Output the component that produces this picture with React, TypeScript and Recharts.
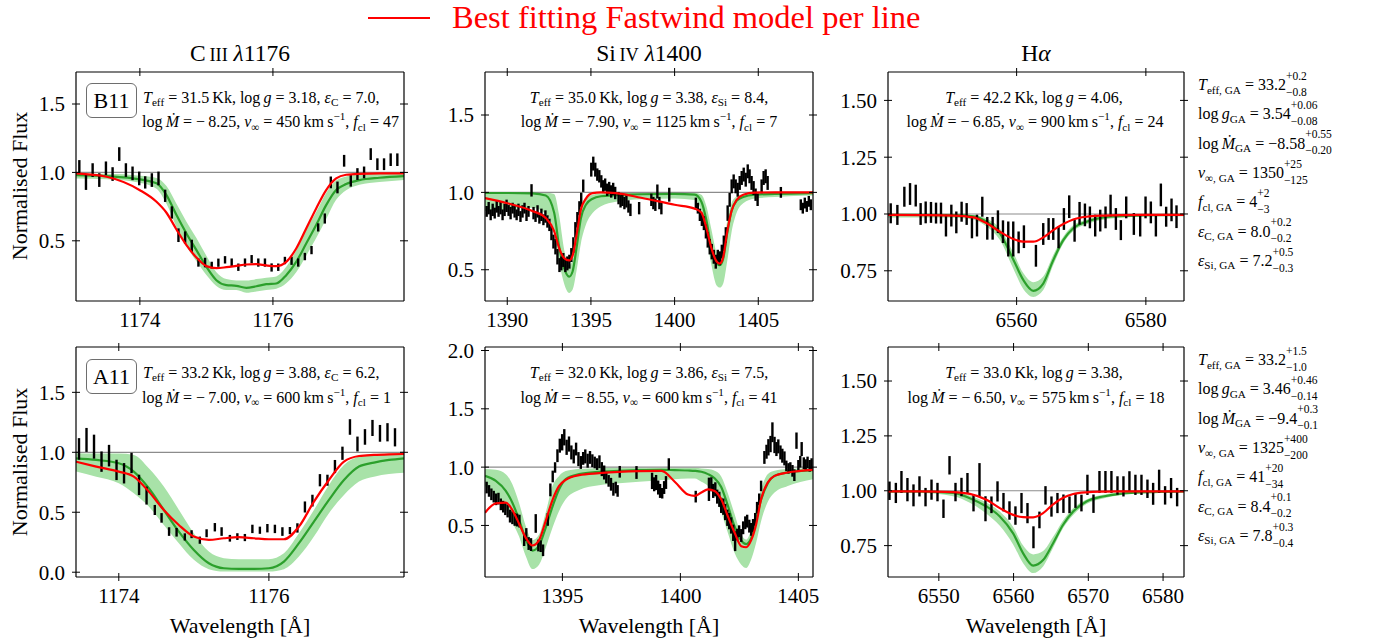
import React from 'react';
import { ComposedChart, XAxis, YAxis, Line, Area, Scatter, ErrorBar, ReferenceLine } from 'recharts';

const FONT = "'Liberation Serif', 'DejaVu Serif', serif";
const RED = '#ff0000';
const GREEN = '#2ca02c';
const BAND = '#a8e2a8';

// ---------- C III 1176, B11 (top left) ----------
const p1Wave = [1173.09,1173.19,1173.29,1173.39,1173.49,1173.59,1173.69,1173.79,1173.89,1173.99,1174.08,1174.18,1174.28,1174.38,1174.48,1174.58,1174.68,1174.78,1174.88,1174.98,1175.08,1175.18,1175.28,1175.38,1175.48,1175.58,1175.68,1175.78,1175.88,1175.98,1176.08,1176.18,1176.28,1176.38,1176.48,1176.58,1176.68,1176.78,1176.87,1176.97,1177.07,1177.17,1177.27,1177.37,1177.47,1177.57,1177.67,1177.77,1177.87];
const p1Flux = [1.04,0.927,1.017,0.944,1.03,0.988,1.134,1.017,0.993,0.956,0.927,0.944,0.956,0.829,0.707,0.541,0.524,0.463,0.341,0.341,0.322,0.34,0.361,0.341,0.307,0.341,0.366,0.341,0.341,0.305,0.307,0.356,0.354,0.341,0.385,0.432,0.598,0.663,0.927,0.89,1.085,0.939,0.988,1.0,1.134,1.06,1.06,1.093,1.093];
const p1Err = [0.05,0.055,0.05,0.05,0.05,0.05,0.05,0.05,0.05,0.05,0.045,0.05,0.05,0.045,0.045,0.05,0.045,0.045,0.03,0.035,0.025,0.03,0.027,0.03,0.027,0.03,0.03,0.03,0.03,0.03,0.027,0.027,0.03,0.03,0.027,0.03,0.03,0.037,0.043,0.043,0.043,0.043,0.043,0.043,0.043,0.043,0.043,0.046,0.046];
const p1ModWave = [1173.04,1173.5,1174.0,1174.25,1174.4,1174.55,1174.7,1174.85,1175.0,1175.15,1175.3,1175.45,1175.6,1175.75,1175.9,1176.05,1176.2,1176.35,1176.5,1176.65,1176.8,1176.95,1177.1,1177.3,1177.6,1177.97];
const p1Green = [0.98,0.973,0.949,0.92,0.834,0.688,0.554,0.432,0.31,0.212,0.176,0.171,0.156,0.168,0.183,0.188,0.249,0.346,0.48,0.615,0.761,0.871,0.915,0.944,0.961,0.973];
const p1Lo = [0.955,0.95,0.925,0.88,0.77,0.6,0.46,0.35,0.25,0.17,0.14,0.14,0.12,0.13,0.14,0.15,0.19,0.27,0.39,0.52,0.66,0.8,0.87,0.91,0.93,0.945];
const p1Hi = [0.99,0.99,0.975,0.96,0.9,0.77,0.64,0.52,0.39,0.27,0.22,0.21,0.21,0.22,0.23,0.24,0.31,0.43,0.58,0.71,0.85,0.94,0.97,0.985,0.99,0.99];
const p1Red = [0.993,0.968,0.87,0.785,0.705,0.583,0.468,0.378,0.315,0.3,0.307,0.317,0.327,0.329,0.32,0.315,0.346,0.444,0.59,0.737,0.871,0.956,0.983,0.99,0.993,0.993];

// ---------- Si IV 1400, B11 (top middle) ----------
const p2Wave = [1388.77,1388.89,1389.01,1389.13,1389.25,1389.37,1389.48,1389.6,1389.72,1389.84,1389.96,1390.08,1390.2,1390.32,1390.44,1390.56,1390.67,1390.79,1390.91,1391.03,1391.15,1391.27,1391.45,1391.57,1391.69,1391.81,1391.92,1392.04,1392.16,1392.28,1392.4,1392.52,1392.64,1392.76,1392.88,1393.0,1393.12,1393.23,1393.35,1393.47,1393.59,1393.71,1393.83,1393.95,1394.07,1394.19,1394.31,1394.42,1394.54,1395.02,1395.14,1395.26,1395.38,1395.5,1395.62,1395.73,1395.85,1395.97,1396.09,1396.21,1396.33,1396.45,1396.65,1396.77,1396.88,1397.0,1397.12,1397.24,1397.36,1397.88,1398.61,1398.73,1398.85,1398.97,1399.09,1399.21,1399.68,1401.27,1401.39,1401.51,1401.63,1401.75,1401.87,1401.98,1402.1,1402.22,1402.34,1402.46,1402.58,1402.7,1402.82,1402.94,1403.06,1403.17,1403.29,1403.41,1403.53,1403.65,1403.77,1403.89,1404.01,1404.13,1404.25,1404.37,1404.48,1404.6,1404.72,1404.84,1404.96,1405.2,1405.32,1405.44,1405.56,1406.35,1407.54,1407.66,1407.78,1407.9,1408.02,1408.14];
const p2Flux = [0.877,0.898,0.855,0.887,0.866,0.909,0.877,0.898,0.855,0.887,0.913,0.883,0.866,0.898,0.877,0.855,0.887,0.844,0.877,0.898,0.855,0.877,1.013,0.866,0.844,0.877,0.833,0.855,0.823,0.844,0.812,0.79,0.736,0.682,0.649,0.584,0.53,0.541,0.563,0.53,0.541,0.552,0.595,0.66,0.758,0.823,0.898,0.952,1.043,1.147,1.186,1.147,1.115,1.104,1.071,1.039,1.05,1.017,1.028,1.006,1.022,0.996,0.963,0.942,0.952,0.931,0.942,0.909,0.887,0.898,0.952,0.931,0.92,1.006,0.931,0.898,0.985,0.931,0.898,0.855,0.823,0.801,0.747,0.693,0.649,0.617,0.584,0.552,0.584,0.574,0.617,0.671,0.725,0.866,0.952,1.039,1.071,1.039,1.017,1.061,1.093,1.115,1.082,1.136,1.104,1.061,1.028,0.985,0.952,1.039,1.093,1.104,1.061,1.0,0.92,0.898,0.931,0.909,0.942,0.92];
const p2Err = [0.035,0.04,0.035,0.04,0.035,0.04,0.035,0.04,0.035,0.04,0.04,0.035,0.04,0.035,0.04,0.035,0.04,0.035,0.04,0.035,0.04,0.035,0.04,0.04,0.035,0.04,0.035,0.04,0.035,0.04,0.04,0.04,0.045,0.045,0.05,0.05,0.045,0.045,0.045,0.045,0.045,0.045,0.045,0.05,0.05,0.05,0.045,0.045,0.04,0.045,0.045,0.045,0.04,0.04,0.04,0.04,0.04,0.04,0.04,0.04,0.04,0.04,0.04,0.04,0.04,0.04,0.04,0.04,0.04,0.04,0.04,0.04,0.04,0.045,0.04,0.04,0.045,0.035,0.035,0.04,0.04,0.045,0.045,0.05,0.05,0.05,0.045,0.045,0.045,0.045,0.045,0.05,0.05,0.05,0.045,0.045,0.045,0.045,0.045,0.045,0.045,0.045,0.045,0.045,0.045,0.045,0.045,0.04,0.04,0.045,0.045,0.045,0.045,0.035,0.035,0.035,0.035,0.035,0.035,0.035];
const p2ModWave = [1388.67,1390.0,1391.5,1392.3,1392.8,1393.1,1393.4,1393.7,1393.9,1394.15,1394.4,1394.7,1395.1,1395.6,1396.5,1398.0,1400.0,1401.2,1401.6,1401.9,1402.2,1402.5,1402.7,1402.9,1403.15,1403.4,1403.7,1404.1,1404.8,1406.0,1408.27];
const p2Green = [0.996,0.996,0.993,0.98,0.87,0.65,0.51,0.455,0.487,0.65,0.833,0.92,0.959,0.975,0.982,0.988,0.99,0.985,0.94,0.82,0.64,0.545,0.53,0.57,0.74,0.88,0.945,0.97,0.985,0.99,0.995];
const p2Lo = [0.88,0.89,0.9,0.86,0.74,0.55,0.41,0.35,0.37,0.5,0.67,0.79,0.866,0.91,0.94,0.955,0.96,0.95,0.88,0.71,0.53,0.4,0.385,0.41,0.56,0.74,0.866,0.93,0.96,0.97,0.98];
const p2Hi = [1.0,1.0,1.0,0.998,0.99,0.85,0.63,0.53,0.56,0.74,0.9,0.963,0.985,0.995,1.0,1.0,1.0,0.998,0.985,0.91,0.76,0.61,0.56,0.63,0.82,0.93,0.974,0.99,1.0,1.0,1.0];
const p2Red = [0.963,0.93,0.88,0.835,0.75,0.64,0.575,0.56,0.59,0.73,0.89,0.96,0.995,1.0,0.995,0.965,0.92,0.895,0.87,0.77,0.64,0.555,0.54,0.58,0.75,0.88,0.95,0.985,0.998,1.0,1.0];

// ---------- H alpha, B11 (top right) ----------
const p3Wave = [6540.52,6541.55,6542.63,6543.51,6544.39,6545.15,6545.93,6546.75,6547.53,6548.3,6549.07,6549.9,6550.67,6551.49,6552.27,6553.09,6553.87,6554.69,6555.46,6556.29,6557.11,6557.89,6558.71,6559.48,6560.31,6561.13,6562.99,6564.12,6564.95,6565.67,6566.49,6567.32,6568.14,6568.97,6569.74,6570.57,6571.34,6572.16,6572.94,6573.76,6574.54,6575.36,6576.13,6576.96,6578.14,6579.12,6579.95,6580.77,6581.55,6582.32,6583.14,6583.97,6584.74];
const p3Flux = [1.003,0.996,1.076,1.088,1.081,1.0,1.007,1.007,1.004,1.004,0.949,0.993,0.963,1.01,1.0,0.941,0.949,1.032,0.937,0.937,0.966,0.922,0.89,0.89,0.875,0.9,0.816,0.912,0.934,0.934,0.897,0.978,1.032,0.926,1.003,0.996,0.985,0.949,0.971,0.985,1.037,0.978,0.929,1.029,0.956,0.949,1.029,1.007,0.949,1.084,0.988,1.018,0.988];
const p3Err = [0.044,0.044,0.044,0.048,0.048,0.048,0.048,0.046,0.046,0.046,0.048,0.048,0.048,0.044,0.048,0.048,0.048,0.044,0.05,0.05,0.05,0.05,0.077,0.077,0.048,0.05,0.048,0.048,0.048,0.048,0.048,0.048,0.05,0.048,0.05,0.05,0.048,0.048,0.048,0.048,0.048,0.048,0.044,0.048,0.048,0.048,0.048,0.048,0.048,0.05,0.044,0.05,0.05];
const p3ModWave = [6540.1,6545.05,6550.21,6553.3,6555.36,6557.42,6559.48,6561.03,6562.58,6564.12,6565.67,6567.22,6568.76,6570.82,6573.4,6575.98,6581.13,6585.9];
const p3Green = [0.996,0.996,0.995,0.99,0.966,0.915,0.8,0.71,0.662,0.694,0.797,0.885,0.937,0.966,0.985,0.991,0.995,0.996];
const p3Lo = [0.985,0.985,0.983,0.975,0.945,0.885,0.76,0.67,0.635,0.665,0.775,0.87,0.925,0.955,0.975,0.983,0.99,0.99];
const p3Hi = [1.0,1.0,0.998,0.995,0.98,0.935,0.83,0.74,0.7,0.725,0.82,0.9,0.95,0.975,0.993,0.998,1.0,1.0];
const p3Red = [0.996,0.995,0.993,0.985,0.959,0.922,0.89,0.878,0.878,0.897,0.929,0.956,0.976,0.988,0.993,0.995,0.996,0.996];

// ---------- C III 1176, A11 (bottom left) ----------
const p4Wave = [1173.47,1173.57,1173.67,1173.77,1173.87,1173.97,1174.07,1174.17,1174.27,1174.37,1174.48,1174.57,1174.67,1174.77,1174.88,1174.97,1175.08,1175.17,1175.28,1175.37,1175.48,1175.58,1175.68,1175.78,1175.88,1175.98,1176.08,1176.18,1176.28,1176.38,1176.48,1176.58,1176.68,1176.78,1176.88,1176.98,1177.08,1177.18,1177.28,1177.38,1177.48,1177.58,1177.68];
const p4Flux = [1.028,1.103,1.047,0.922,0.972,0.853,0.825,0.911,0.728,0.639,0.519,0.453,0.339,0.333,0.294,0.317,0.267,0.325,0.375,0.339,0.283,0.297,0.289,0.361,0.35,0.367,0.361,0.339,0.347,0.369,0.544,0.597,0.767,0.767,0.881,0.992,1.211,1.069,1.128,1.203,1.158,1.167,1.125];
const p4Err = [0.09,0.1,0.1,0.085,0.09,0.085,0.085,0.085,0.085,0.075,0.042,0.04,0.036,0.036,0.03,0.033,0.03,0.033,0.035,0.036,0.028,0.028,0.03,0.035,0.03,0.035,0.035,0.036,0.03,0.039,0.046,0.049,0.051,0.046,0.055,0.055,0.065,0.062,0.065,0.067,0.07,0.076,0.076];
const p4ModWave = [1173.43,1173.7,1174.0,1174.2,1174.4,1174.6,1174.8,1175.0,1175.2,1175.4,1175.6,1175.8,1176.0,1176.2,1176.4,1176.6,1176.8,1177.0,1177.2,1177.4,1177.6,1177.8];
const p4Green = [0.95,0.936,0.908,0.839,0.7,0.519,0.339,0.186,0.075,0.033,0.028,0.028,0.033,0.089,0.242,0.422,0.603,0.769,0.881,0.914,0.936,0.95];
const p4Lo = [0.839,0.797,0.742,0.658,0.547,0.394,0.242,0.103,0.025,0.006,0.006,0.006,0.006,0.025,0.13,0.297,0.492,0.644,0.756,0.797,0.819,0.83];
const p4Hi = [0.992,0.99,0.99,0.978,0.867,0.714,0.52,0.325,0.172,0.117,0.108,0.108,0.108,0.158,0.325,0.519,0.728,0.894,0.964,0.986,0.988,0.99];
const p4Red = [0.922,0.881,0.839,0.797,0.672,0.519,0.394,0.297,0.269,0.283,0.292,0.283,0.275,0.275,0.38,0.589,0.769,0.922,0.969,0.978,0.983,0.986];

// ---------- Si IV 1400, A11 (bottom middle) ----------
const p5Wave = [1391.79,1391.89,1391.99,1392.09,1392.19,1392.29,1392.39,1392.49,1392.58,1392.68,1392.78,1392.88,1392.98,1393.08,1393.18,1393.38,1393.47,1393.57,1393.67,1393.87,1393.98,1394.08,1394.18,1394.38,1394.49,1394.59,1394.69,1394.79,1394.89,1394.99,1395.08,1395.18,1395.28,1395.38,1395.48,1395.58,1395.68,1395.78,1395.88,1395.97,1396.07,1396.17,1396.27,1396.37,1396.47,1396.57,1396.67,1396.77,1396.86,1396.96,1397.06,1397.16,1397.26,1397.34,1397.43,1398.14,1398.8,1398.89,1398.97,1399.06,1399.14,1399.23,1399.31,1399.39,1399.51,1400.65,1401.21,1401.31,1401.39,1401.48,1401.56,1401.65,1401.73,1401.82,1401.9,1401.99,1402.07,1402.15,1402.24,1402.32,1402.41,1402.49,1402.58,1402.66,1402.75,1402.83,1402.92,1403.0,1403.08,1403.17,1403.25,1403.34,1403.42,1403.56,1403.65,1403.73,1403.82,1403.9,1403.99,1404.07,1404.15,1404.24,1404.32,1404.41,1404.49,1404.58,1404.66,1404.75,1404.83,1404.92,1405.0,1405.08,1405.14,1405.23,1405.31,1405.39,1405.48,1405.56];
const p5Flux = [0.825,0.796,0.767,0.747,0.724,0.73,0.681,0.661,0.644,0.624,0.58,0.566,0.552,0.546,0.537,0.374,0.422,0.345,0.336,0.517,0.328,0.322,0.287,0.552,0.805,0.92,0.997,1.098,1.184,1.213,1.256,1.17,1.198,1.126,1.092,1.155,1.069,1.04,1.075,1.092,1.055,1.083,1.055,1.04,1.026,1.046,0.983,0.954,0.911,0.882,0.853,0.81,0.825,0.796,0.96,0.954,0.882,0.853,0.868,0.825,0.796,0.776,0.825,0.868,1.026,0.747,0.81,0.853,0.796,0.81,0.747,0.724,0.672,0.661,0.615,0.566,0.537,0.5,0.437,0.365,0.422,0.451,0.414,0.48,0.523,0.537,0.494,0.466,0.5,0.552,0.652,0.724,0.839,1.083,1.132,1.17,1.198,1.299,1.19,1.155,1.178,1.126,1.098,1.075,1.011,0.989,0.997,0.968,0.931,1.227,1.011,1.046,1.155,1.034,1.017,1.04,1.011,1.026];
const p5Err = [0.05,0.05,0.05,0.05,0.05,0.05,0.05,0.05,0.055,0.055,0.055,0.055,0.055,0.055,0.055,0.05,0.055,0.055,0.055,0.08,0.05,0.05,0.05,0.055,0.055,0.05,0.045,0.055,0.06,0.07,0.07,0.065,0.065,0.06,0.06,0.055,0.06,0.055,0.055,0.06,0.06,0.055,0.055,0.05,0.05,0.055,0.06,0.06,0.05,0.05,0.055,0.055,0.05,0.05,0.05,0.055,0.07,0.06,0.065,0.06,0.06,0.045,0.055,0.055,0.05,0.05,0.1,0.06,0.06,0.06,0.06,0.065,0.065,0.07,0.07,0.07,0.07,0.07,0.07,0.085,0.05,0.05,0.055,0.055,0.055,0.055,0.055,0.055,0.055,0.055,0.05,0.05,0.045,0.055,0.06,0.07,0.07,0.085,0.07,0.06,0.06,0.06,0.06,0.06,0.045,0.045,0.045,0.05,0.05,0.07,0.05,0.05,0.06,0.05,0.05,0.05,0.05,0.05];
const p5ModWave = [1391.72,1392.18,1392.6,1392.88,1393.16,1393.45,1393.73,1394.01,1394.29,1394.58,1394.86,1395.14,1395.71,1396.55,1397.4,1398.25,1399.2,1399.76,1400.32,1400.61,1400.89,1401.17,1401.45,1401.73,1402.01,1402.3,1402.58,1402.79,1403.0,1403.21,1403.42,1403.7,1403.99,1404.55,1405.62];
const p5Green = [0.925,0.882,0.796,0.695,0.552,0.379,0.284,0.328,0.48,0.661,0.81,0.897,0.94,0.96,0.968,0.974,0.977,0.974,0.971,0.968,0.96,0.94,0.905,0.83,0.67,0.49,0.37,0.34,0.39,0.55,0.72,0.86,0.925,0.955,0.975];
const p5Lo = [0.839,0.753,0.638,0.523,0.408,0.236,0.126,0.164,0.307,0.48,0.624,0.724,0.805,0.845,0.862,0.874,0.89,0.897,0.902,0.902,0.874,0.839,0.759,0.615,0.437,0.264,0.164,0.135,0.207,0.351,0.537,0.701,0.782,0.839,0.897];
const p5Hi = [0.983,0.977,0.94,0.853,0.695,0.494,0.374,0.422,0.609,0.839,0.925,0.966,0.983,0.991,0.994,0.994,0.994,0.994,0.994,0.994,0.989,0.983,0.968,0.92,0.776,0.595,0.422,0.379,0.466,0.652,0.81,0.94,0.968,0.983,0.991];
const p5Red = [0.609,0.69,0.695,0.632,0.517,0.394,0.328,0.374,0.537,0.718,0.839,0.891,0.931,0.948,0.96,0.966,0.968,0.875,0.765,0.753,0.782,0.81,0.796,0.724,0.58,0.437,0.322,0.313,0.374,0.509,0.724,0.868,0.925,0.954,0.977];

// ---------- H alpha, A11 (bottom right) ----------
const p6Wave = [6543.4,6544.25,6545.0,6545.8,6546.61,6547.41,6548.22,6549.02,6549.82,6550.62,6551.43,6552.23,6553.03,6553.83,6554.64,6555.44,6556.24,6557.04,6557.85,6558.65,6559.45,6560.25,6561.06,6561.86,6562.66,6563.46,6564.27,6565.07,6565.87,6566.67,6567.48,6568.28,6569.08,6569.88,6570.69,6571.49,6572.29,6573.09,6573.9,6574.7,6575.5,6576.3,6577.11,6577.91,6578.67,6579.47,6580.27,6581.07,6581.88];
const p6Flux = [1.0,0.99,1.04,1.005,0.979,1.02,0.971,1.005,0.994,0.918,1.116,0.994,1.017,1.035,0.944,1.05,0.918,0.936,0.997,0.948,0.91,0.887,0.944,0.898,0.788,0.867,0.979,0.928,0.944,0.941,0.936,0.956,0.944,1.027,0.941,1.04,1.04,1.04,1.024,1.02,1.043,1.027,1.027,1.009,0.986,1.043,0.979,1.012,0.971];
const p6Err = [0.042,0.046,0.05,0.053,0.05,0.046,0.042,0.046,0.042,0.042,0.042,0.042,0.042,0.046,0.038,0.076,0.057,0.038,0.046,0.042,0.042,0.042,0.046,0.046,0.05,0.038,0.042,0.046,0.046,0.042,0.038,0.034,0.038,0.046,0.042,0.05,0.05,0.05,0.042,0.046,0.046,0.046,0.046,0.042,0.05,0.053,0.042,0.046,0.042];
const p6ModWave = [6543.2,6547.46,6551.92,6554.15,6556.38,6558.16,6559.94,6561.28,6562.62,6563.95,6565.29,6566.63,6567.97,6569.75,6571.98,6574.21,6578.67,6582.8];
const p6Green = [0.997,0.997,0.99,0.966,0.928,0.883,0.806,0.715,0.659,0.684,0.761,0.845,0.905,0.951,0.974,0.986,0.994,0.997];
const p6Lo = [0.99,0.99,0.975,0.945,0.895,0.84,0.755,0.67,0.625,0.655,0.74,0.83,0.89,0.94,0.965,0.98,0.99,0.992];
const p6Hi = [1.0,1.0,0.995,0.978,0.945,0.905,0.835,0.75,0.71,0.725,0.79,0.865,0.92,0.96,0.982,0.992,0.998,1.0];
const p6Red = [0.997,0.997,0.994,0.986,0.959,0.921,0.89,0.88,0.879,0.898,0.938,0.968,0.985,0.993,0.996,0.997,0.997,0.997];

// ---------- GA best-fit values (right column) ----------
const gaTopVal = ['33.2', '3.54', '\u22128.58', '1350', '4', '8.0', '7.2'];
const gaTopUp = ['+0.2', '+0.06', '+0.55', '+25', '+2', '+0.2', '+0.5'];
const gaTopDn = ['\u22120.8', '\u22120.08', '\u22120.20', '\u2212125', '\u22123', '\u22120.2', '\u22120.3'];
const gaBotVal = ['33.2', '3.46', '\u22129.4', '1325', '41', '8.4', '7.8'];
const gaBotUp = ['+1.5', '+0.46', '+0.3', '+400', '+20', '+0.1', '+0.3'];
const gaBotDn = ['\u22121.0', '\u22120.14', '\u22120.1', '\u2212200', '\u221234', '\u22120.2', '\u22120.4'];

const YW = 60;
const MT = 10;
const MR = 10;
const XH = 45;

type PanelProps = {
  left: number; top: number; width: number; height: number;
  xDomain: [number, number]; xTicks: number[];
  yDomain: [number, number]; yTicks: number[]; yDigits: number;
  wave: number[]; flux: number[]; err: number[];
  modWave: number[]; green: number[]; lo: number[]; hi: number[]; red: number[];
};

const tickFont = { fill: '#000', fontSize: 21, fontFamily: FONT };
const spine = { stroke: '#000', strokeWidth: 1.2 };

const Panel = (p: PanelProps) => {
  const model = p.modWave.map((w, i) => ({ w, g: p.green[i], band: [p.lo[i], p.hi[i]], r: p.red[i] }));
  const obs = p.wave.map((w, i) => ({ w, f: p.flux[i], e: p.err[i] }));
  return (
    <div style={{ position: 'absolute', left: p.left - YW, top: p.top - MT }}>
      <ComposedChart width={YW + p.width + MR} height={MT + p.height + XH} data={model}
        margin={{ top: MT - 1, right: MR - 1, bottom: 0, left: 0 }} style={{ fontFamily: FONT }}>
        <XAxis dataKey="w" type="number" domain={p.xDomain} ticks={p.xTicks} allowDataOverflow interval={0}
          height={XH} tickSize={8} tickMargin={3} axisLine={spine}
          tickLine={{ stroke: '#000', strokeWidth: 1, transform: 'translate(0,-4)' }} tick={tickFont} />
        <XAxis xAxisId="top" orientation="top" dataKey="w" type="number" domain={p.xDomain} ticks={p.xTicks}
          allowDataOverflow interval={0} height={1} tickSize={8} axisLine={spine}
          tickLine={{ stroke: '#000', strokeWidth: 1, transform: 'translate(0,4)' }} tickFormatter={() => ''} />
        <YAxis type="number" domain={p.yDomain} ticks={p.yTicks} allowDataOverflow interval={0}
          width={YW} tickSize={8} tickMargin={3} axisLine={spine}
          tickLine={{ stroke: '#000', strokeWidth: 1, transform: 'translate(4,0)' }} tick={tickFont}
          tickFormatter={(v: number) => v.toFixed(p.yDigits)} />
        <YAxis yAxisId="right" orientation="right" type="number" domain={p.yDomain} ticks={p.yTicks}
          allowDataOverflow interval={0} width={1} tickSize={8} axisLine={spine}
          tickLine={{ stroke: '#000', strokeWidth: 1, transform: 'translate(-4,0)' }} tickFormatter={() => ''} />
        <Area dataKey="band" type="monotone" stroke="none" fill={BAND} fillOpacity={1} isAnimationActive={false} />
        <ReferenceLine y={1} stroke="#8c8c8c" strokeWidth={1.2} />
        <Line dataKey="g" type="monotone" stroke={GREEN} strokeWidth={2.2} dot={false} isAnimationActive={false} />
        <Scatter data={obs} dataKey="f" shape={() => <g />} isAnimationActive={false}>
          <ErrorBar dataKey="e" direction="y" width={0} stroke="#000" strokeWidth={2.4} />
        </Scatter>
        <Line dataKey="r" type="monotone" stroke={RED} strokeWidth={2.2} dot={false} isAnimationActive={false} />
        <Line xAxisId="top" yAxisId="right" dataKey="g" stroke="none" strokeWidth={0} dot={false}
          activeDot={false} legendType="none" isAnimationActive={false} />
      </ComposedChart>
    </div>
  );
};

const It = ({ children }: { children: React.ReactNode }) => <span style={{ fontStyle: 'italic' }}>{children}</span>;
const Sb = ({ children }: { children: React.ReactNode }) => (
  <span style={{ fontSize: '0.7em', position: 'relative', top: '0.32em' }}>{children}</span>
);
const Sp = ({ children }: { children: React.ReactNode }) => (
  <span style={{ fontSize: '0.7em', position: 'relative', top: '-0.62em' }}>{children}</span>
);
const PM = ({ up, dn }: { up: string; dn: string }) => (
  <span style={{ position: 'relative', display: 'inline-block', fontSize: '0.72em' }}>
    <span style={{ visibility: 'hidden' }}>{up.length > dn.length ? up : dn}</span>
    <span style={{ position: 'absolute', left: 0, top: '-0.9em' }}>{up}</span>
    <span style={{ position: 'absolute', left: 0, top: '0.5em' }}>{dn}</span>
  </span>
);

const Txt = ({ x, y, fs, center, color, children }: {
  x: number; y: number; fs: number; center?: boolean; color?: string; children: React.ReactNode;
}) => (
  <div style={{
    position: 'absolute', left: x, top: y - 0.84 * fs, fontSize: fs, lineHeight: `${fs}px`,
    whiteSpace: 'nowrap', fontFamily: FONT, color: color || '#000',
    transform: center ? 'translateX(-50%)' : undefined,
  }}>{children}</div>
);

const Line1 = ({ t, g, eps, val }: { t: string; g: string; eps?: string; val?: string }) => (
  <>
    <It>T</It><Sb>eff</Sb> = {t}&#8201;Kk, log<It>&#8201;g</It> = {g}
    {eps ? <>, <It>&#949;</It><Sb>{eps}</Sb> = {val},</> : ','}
  </>
);
const Line2 = ({ m, v, f }: { m: string; v: string; f: string }) => (
  <>
    log&#8201;<It>&#7744;</It> = &#8722;&#8201;{m}, <It>v</It><Sb>&#8734;</Sb> = {v}&#8201;km&#8201;s<Sp>&#8722;1</Sp>, <It>f</It><Sb>cl</Sb> = {f}
  </>
);

const gaLabels = [
  <><It>T</It><Sb>eff, GA</Sb></>,
  <>log<It>&#8201;g</It><Sb>GA</Sb></>,
  <>log&#8201;<It>&#7744;</It><Sb>GA</Sb></>,
  <><It>v</It><Sb>&#8734;, GA</Sb></>,
  <><It>f</It><Sb>cl, GA</Sb></>,
  <><It>&#949;</It><Sb>C, GA</Sb></>,
  <><It>&#949;</It><Sb>Si, GA</Sb></>,
];

const GaBlock = ({ top, vals, ups, dns }: { top: number; vals: string[]; ups: string[]; dns: string[] }) => (
  <>
    {vals.map((v, i) => (
      <Txt key={i} x={1198} y={top + 18.5 + i * 29.3} fs={16}>
        {gaLabels[i]} = {v}<PM up={ups[i]} dn={dns[i]} />
      </Txt>
    ))}
  </>
);

const NameBox = ({ x, y, label }: { x: number; y: number; label: string }) => (
  <div style={{
    position: 'absolute', left: x, top: y, width: 49, height: 33, border: '1.3px solid #6e6e6e',
    borderRadius: 6, fontFamily: FONT, fontSize: 22, lineHeight: '33px', textAlign: 'center', background: '#fff',
  }}>{label}</div>
);

const YLabel = ({ cy }: { cy: number }) => (
  <div style={{
    position: 'absolute', left: 20, top: cy, transform: 'translate(-50%,-50%) rotate(-90deg)',
    fontFamily: FONT, fontSize: 22, whiteSpace: 'nowrap', lineHeight: 1,
  }}>Normalised Flux</div>
);

export default function App() {
  return (
    <div style={{ position: 'absolute', left: 0, top: 0, width: 1397, height: 642, background: '#fff', fontFamily: FONT }}>
      {/* legend */}
      <div style={{ position: 'absolute', left: 368, top: 17, width: 62, height: 0, borderTop: `2px solid ${RED}` }} />
      <Txt x={452} y={28} fs={32.5} color={RED}>Best fitting Fastwind model per line</Txt>

      {/* column titles */}
      <Txt x={240} y={62} fs={23.5} center>C<span style={{ fontSize: '0.78em' }}>&#8201;III</span> <It>&#955;</It>1176</Txt>
      <Txt x={649} y={62} fs={23.5} center>Si<span style={{ fontSize: '0.78em' }}>&#8201;IV</span> <It>&#955;</It>1400</Txt>
      <Txt x={1036} y={62} fs={23.5} center>H<It>&#945;</It></Txt>

      <Panel left={76} top={72} width={328} height={229} xDomain={[1173.04, 1177.97]} xTicks={[1174, 1176]}
        yDomain={[0.06, 1.734]} yTicks={[0.5, 1.0, 1.5]} yDigits={1}
        wave={p1Wave} flux={p1Flux} err={p1Err} modWave={p1ModWave} green={p1Green} lo={p1Lo} hi={p1Hi} red={p1Red} />
      <Panel left={485} top={72} width={328} height={229} xDomain={[1388.67, 1408.27]} xTicks={[1390, 1395, 1400, 1405]}
        yDomain={[0.298, 1.778]} yTicks={[0.5, 1.0, 1.5]} yDigits={1}
        wave={p2Wave} flux={p2Flux} err={p2Err} modWave={p2ModWave} green={p2Green} lo={p2Lo} hi={p2Hi} red={p2Red} />
      <Panel left={888} top={72} width={296} height={229} xDomain={[6540.1, 6585.9]} xTicks={[6560, 6580]}
        yDomain={[0.617, 1.625]} yTicks={[0.75, 1.0, 1.25, 1.5]} yDigits={2}
        wave={p3Wave} flux={p3Flux} err={p3Err} modWave={p3ModWave} green={p3Green} lo={p3Lo} hi={p3Hi} red={p3Red} />
      <Panel left={76} top={347} width={328} height={230} xDomain={[1173.43, 1177.8]} xTicks={[1174, 1176]}
        yDomain={[-0.04, 1.878]} yTicks={[0, 0.5, 1.0, 1.5]} yDigits={1}
        wave={p4Wave} flux={p4Flux} err={p4Err} modWave={p4ModWave} green={p4Green} lo={p4Lo} hi={p4Hi} red={p4Red} />
      <Panel left={485} top={347} width={328} height={230} xDomain={[1391.72, 1405.62]} xTicks={[1395, 1400, 1405]}
        yDomain={[0.058, 2.03]} yTicks={[0.5, 1.0, 1.5, 2.0]} yDigits={1}
        wave={p5Wave} flux={p5Flux} err={p5Err} modWave={p5ModWave} green={p5Green} lo={p5Lo} hi={p5Hi} red={p5Red} />
      <Panel left={888} top={347} width={296} height={230} xDomain={[6543.2, 6582.8]} xTicks={[6550, 6560, 6570, 6580]}
        yDomain={[0.607, 1.655]} yTicks={[0.75, 1.0, 1.25, 1.5]} yDigits={2}
        wave={p6Wave} flux={p6Flux} err={p6Err} modWave={p6ModWave} green={p6Green} lo={p6Lo} hi={p6Hi} red={p6Red} />

      {/* star name boxes */}
      <NameBox x={86} y={83} label="B11" />
      <NameBox x={86} y={359} label="A11" />

      {/* per-line best-fit parameters */}
      <Txt x={143} y={103} fs={16}><Line1 t="31.5" g="3.18" eps="C" val="7.0" /></Txt>
      <Txt x={142} y={127.5} fs={16}><Line2 m="8.25" v="450" f="47" /></Txt>
      <Txt x={649} y={103} fs={16} center><Line1 t="35.0" g="3.38" eps="Si" val="8.4" /></Txt>
      <Txt x={649} y={127.5} fs={16} center><Line2 m="7.90" v="1125" f="7" /></Txt>
      <Txt x={1034} y={103} fs={16} center><Line1 t="42.2" g="4.06" /></Txt>
      <Txt x={1035} y={127.5} fs={16} center><Line2 m="6.85" v="900" f="24" /></Txt>

      <Txt x={143} y={378} fs={16}><Line1 t="33.2" g="3.88" eps="C" val="6.2" /></Txt>
      <Txt x={142} y={403} fs={16}><Line2 m="7.00" v="600" f="1" /></Txt>
      <Txt x={649} y={378} fs={16} center><Line1 t="32.0" g="3.86" eps="Si" val="7.5" /></Txt>
      <Txt x={649} y={403} fs={16} center><Line2 m="8.55" v="600" f="41" /></Txt>
      <Txt x={1034} y={378} fs={16} center><Line1 t="33.0" g="3.38" /></Txt>
      <Txt x={1036} y={403} fs={16} center><Line2 m="6.50" v="575" f="18" /></Txt>

      <GaBlock top={72} vals={gaTopVal} ups={gaTopUp} dns={gaTopDn} />
      <GaBlock top={347} vals={gaBotVal} ups={gaBotUp} dns={gaBotDn} />

      <YLabel cy={186} />
      <YLabel cy={462} />
      <Txt x={240} y={633} fs={22} center>Wavelength [&#197;]</Txt>
      <Txt x={649} y={633} fs={22} center>Wavelength [&#197;]</Txt>
      <Txt x={1036} y={633} fs={22} center>Wavelength [&#197;]</Txt>
    </div>
  );
}
